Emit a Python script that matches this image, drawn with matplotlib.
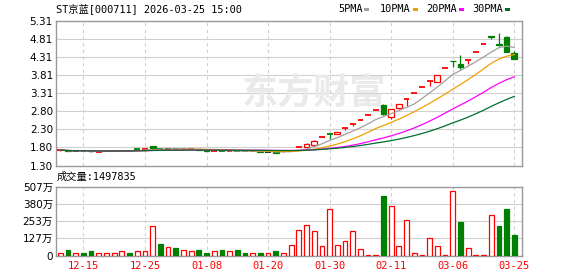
import matplotlib
matplotlib.use("Agg")
import matplotlib.pyplot as plt
import pandas as pd

# ---- data ----
x_label_idx = [3, 11, 19, 27, 35, 43, 51, 59]
x_labels = ["12-15", "12-25", "01-08", "01-20", "01-30", "02-11", "03-06", "03-25"]

opens = [1.72, 1.74, 1.70, 1.72, 1.71, 1.68, 1.69, 1.70, 1.71, 1.72,
         1.75, 1.74, 1.84, 1.77, 1.76, 1.76, 1.74, 1.74, 1.75, 1.72,
         1.69, 1.71, 1.70, 1.71, 1.70, 1.69, 1.69, 1.67, 1.68, 1.69,
         1.71, 1.81, 1.82, 1.87, 2.09, 2.19, 2.18, 2.33, 2.45, 2.57,
         2.70, 2.84, 2.99, 2.64, 2.89, 3.15, 3.31, 3.47, 3.64, 3.63,
         4.01, 4.21, 4.12, 4.23, 4.44, 4.66, 4.89, 4.66, 4.86, 4.42]
highs = [1.74, 1.74, 1.70, 1.72, 1.71, 1.69, 1.69, 1.71, 1.72, 1.72,
         1.76, 1.76, 1.85, 1.78, 1.77, 1.76, 1.77, 1.76, 1.75, 1.72,
         1.71, 1.71, 1.71, 1.71, 1.70, 1.70, 1.69, 1.67, 1.68, 1.71,
         1.74, 1.81, 1.92, 2.00, 2.09, 2.19, 2.23, 2.33, 2.45, 2.57,
         2.70, 2.84, 3.00, 2.86, 3.00, 3.15, 3.31, 3.47, 3.64, 3.82,
         4.01, 4.21, 4.37, 4.23, 4.44, 4.66, 4.89, 4.97, 4.90, 4.48]
lows = [1.71, 1.70, 1.70, 1.69, 1.68, 1.67, 1.69, 1.69, 1.70, 1.71,
        1.74, 1.74, 1.78, 1.74, 1.75, 1.74, 1.74, 1.74, 1.73, 1.70,
        1.69, 1.69, 1.70, 1.70, 1.69, 1.69, 1.67, 1.67, 1.66, 1.68,
        1.70, 1.81, 1.81, 1.86, 2.09, 2.04, 2.17, 2.29, 2.40, 2.57,
        2.70, 2.84, 2.70, 2.58, 2.88, 2.95, 3.31, 3.47, 3.52, 3.61,
        4.01, 4.03, 3.97, 4.12, 4.44, 4.66, 4.81, 4.63, 4.46, 4.25]
closes = [1.73, 1.70, 1.70, 1.71, 1.69, 1.69, 1.69, 1.71, 1.72, 1.71,
          1.74, 1.75, 1.79, 1.76, 1.76, 1.75, 1.75, 1.75, 1.73, 1.70,
          1.70, 1.70, 1.71, 1.70, 1.69, 1.70, 1.67, 1.67, 1.66, 1.70,
          1.72, 1.81, 1.90, 1.99, 2.09, 2.18, 2.22, 2.33, 2.45, 2.57,
          2.70, 2.84, 2.72, 2.86, 3.00, 3.15, 3.31, 3.47, 3.64, 3.82,
          4.01, 4.19, 4.03, 4.23, 4.44, 4.66, 4.87, 4.64, 4.46, 4.25]

# volume in 万
volumes = [22, 37, 15, 22, 30, 15, 20, 20, 30, 15,
           30, 30, 220, 81, 59, 52, 37, 30, 44, 22,
           30, 44, 30, 37, 22, 22, 22, 22, 30, 15,
           79, 185, 227, 178, 67, 340, 79, 104, 178, 50,
           7, 7, 437, 363, 67, 259, 15, 7, 131, 67,
           7, 474, 246, 57, 7, 7, 296, 215, 340, 150]
vol_dir = ("RGRGGRRRRG" "RRRGRGRRGG" "RGRGGRGRGR"
           "RRRRRRRRRR" "RRGRRRRRRR" "RRGRRRRGGG")

ma_periods = [5, 10, 20, 30]
ma_colors = ["#a0a0a0", "#f0a000", "#ff00ff", "#006f2e"]

price_ticks = [1.30, 1.80, 2.30, 2.80, 3.31, 3.81, 4.31, 4.81, 5.31]
vol_ticks = [0, 127, 253, 380, 507]

RED = "#ff0000"
GREEN = "#008000"
GRID = "#d0d0d0"
BORDER = "#999999"

W, H = 578, 276
fig = plt.figure(figsize=(W / 100, H / 100), dpi=100)
fig.patch.set_facecolor("white")

L, R = 55.7, 522.3
ax = fig.add_axes([L / W, 1 - 165.5 / H, (R - L) / W, (165.5 - 21) / H])
axv = fig.add_axes([L / W, 1 - 255.5 / H, (R - L) / W, (255.5 - 186.5) / H])

n = len(closes)
xs = list(range(n))
for a in (ax, axv):
    a.set_xlim(-0.6, 60.04)
    for s in a.spines.values():
        s.set_color(BORDER)
        s.set_linewidth(1.0)
    a.tick_params(length=0, pad=2)
    for i in x_label_idx:
        a.axvline(i, color=GRID, lw=0.8, dashes=(3, 3), zorder=0)

# ---- price panel ----
ax.set_ylim(1.30, 5.31)
ax.set_yticks(price_ticks)
ax.set_yticklabels([f"{t:.2f}" for t in price_ticks], fontsize=7.5,
                   family=["DejaVu Sans"])
ax.set_xticks([])
for t in price_ticks[1:-1]:
    ax.axhline(t, color=GRID, lw=0.8, zorder=0)

# watermark
ax.text(0.555, 0.50, "东方财富", transform=ax.transAxes, fontsize=26,
        color="#eaeaea", fontweight="bold", ha="center", va="center",
        family=["Noto Sans CJK SC"], zorder=0)

bw = 0.75
for i in xs:
    o, h, l, c = opens[i], highs[i], lows[i], closes[i]
    if c > o:
        col = RED
    elif c < o:
        col = GREEN
    else:
        prev = closes[i - 1] if i > 0 else o
        col = RED if c > prev else (GREEN if c < prev else "black")
    top, bot = max(o, c), min(o, c)
    if h > top:
        ax.vlines(i, top, h, color=col, lw=0.9, zorder=2)
    if l < bot:
        ax.vlines(i, l, bot, color=col, lw=0.9, zorder=2)
    if top - bot < 0.015:
        ax.hlines((top + bot) / 2, i - bw / 2, i + bw / 2, color=col, lw=1.3, zorder=3)
    elif col == RED:
        ax.bar(i, top - bot, bottom=bot, width=bw, facecolor="white",
               edgecolor=col, lw=0.9, zorder=3)
    else:
        ax.bar(i, top - bot, bottom=bot, width=bw, facecolor=col,
               edgecolor=col, lw=0.9, zorder=3)

close_s = pd.Series(closes)
for p, col in zip(ma_periods, ma_colors):
    ma = close_s.rolling(p, min_periods=1).mean()
    ax.plot(xs, ma, color=col, lw=0.9, zorder=4)

# ---- volume panel ----
axv.set_ylim(0, 507)
axv.set_yticks(vol_ticks)
axv.set_yticklabels(["0"] + [f"{t}万" for t in vol_ticks[1:]], fontsize=7.5,
                    family=["DejaVu Sans", "Noto Sans CJK SC"])
for t in vol_ticks[1:-1]:
    axv.axhline(t, color=GRID, lw=0.8, zorder=0)
for i in xs:
    if vol_dir[i] == "R":
        axv.bar(i, volumes[i], width=0.62, facecolor="white", edgecolor=RED,
                lw=0.9, zorder=3)
    else:
        axv.bar(i, volumes[i], width=0.62, facecolor=GREEN, edgecolor=GREEN,
                lw=0.9, zorder=3)
axv.set_xticks(x_label_idx)
axv.set_xticklabels(x_labels, fontsize=7.5, color=RED,
                    family=["DejaVu Sans Mono"])
axv.tick_params(axis="x", pad=4)

# ---- header texts ----
mono_cjk = ["DejaVu Sans Mono", "Noto Sans CJK SC"]
fig.text(56 / W, 1 - 9 / H, "ST京蓝[000711] 2026-03-25 15:00", fontsize=7.4,
         family=mono_cjk, va="center", ha="left")
fig.text(57 / W, 1 - 177 / H, "成交量:1497835", fontsize=7.4,
         family=mono_cjk, va="center", ha="left")

leg_x = [338, 380, 426, 472]
for x0, p, col in zip(leg_x, ma_periods, ma_colors):
    label = f"{p}PMA"
    fig.text(x0 / W, 1 - 9 / H, label, fontsize=7.4, family=mono_cjk,
             va="center", ha="left")
    sx = x0 + len(label) * 6.1 + 2
    fig.patches.append(plt.Rectangle((sx / W, 1 - 11 / H), 5 / W, 3 / H,
                                     transform=fig.transFigure,
                                     facecolor=col, edgecolor="none"))

fig.savefig("out.png", dpi=100)
